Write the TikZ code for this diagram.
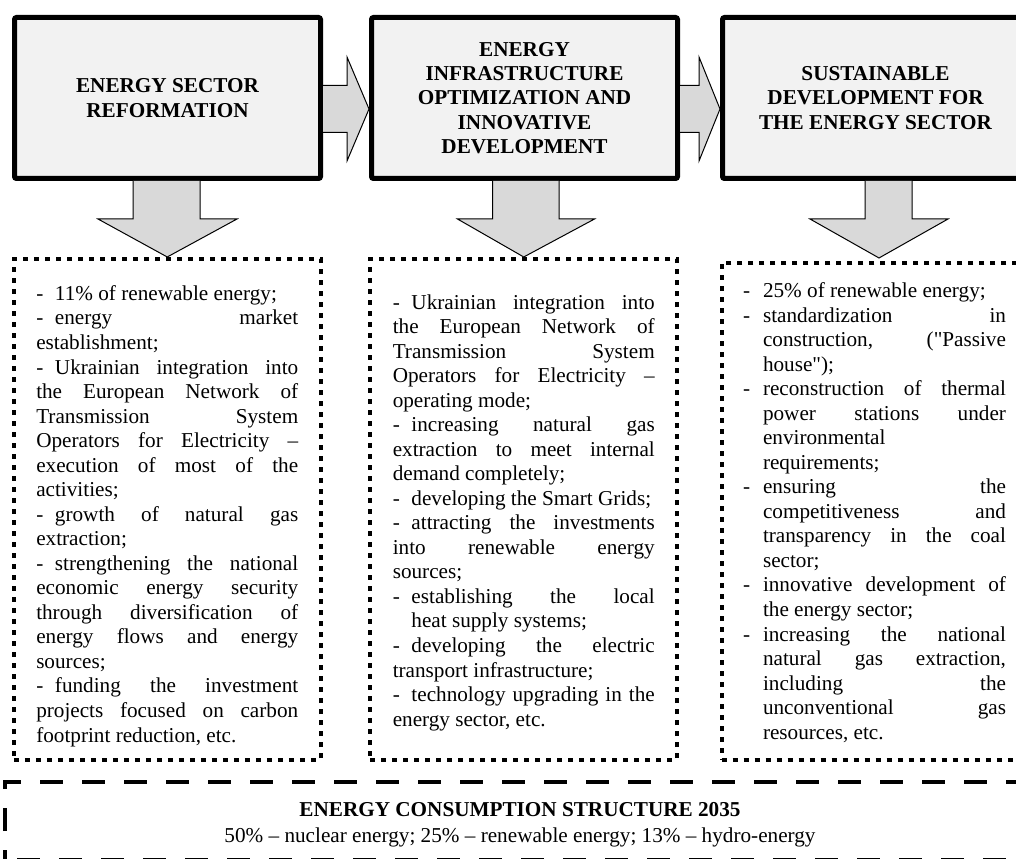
\documentclass[tikz,border=0pt]{standalone}
\usepackage{fontspec}
\setmainfont{Liberation Serif}[Ligatures=TeXOff]
\usetikzlibrary{calc}
\definecolor{stagefill}{HTML}{F2F2F2}
\definecolor{arrowfill}{HTML}{D9D9D9}
\setlength{\parindent}{0pt}
\tolerance=10000
\hbadness=10000
\hyphenpenalty=10000
\newcommand{\itemdash}{-\hspace{0.55em}}
\newcommand{\hangdash}{\noindent\hangindent=15pt\hangafter=1\makebox[15pt][l]{-}}

\begin{document}
\begin{tikzpicture}[x=0.75pt, y=-0.75pt,
  stage/.style={draw, line width=3.75pt, rounded corners=1.5pt, fill=stagefill,
    minimum width=229.5pt, minimum height=120.75pt, inner sep=0pt, align=center,
    font=\fontsize{15.9}{18.2}\selectfont\bfseries},
  dotframe/.style={draw, line width=3pt, dash pattern=on 3.75pt off 4.5pt,
    minimum width=229.9pt, minimum height=375.4pt, inner sep=0pt},
  listtext/.style={text width=196.5pt, align=justify, inner sep=0pt,
    font=\fontsize{15.9}{18.4}\selectfont},
  blockarrow/.style={draw, line width=0.75pt, fill=arrowfill, line join=miter},
  dashframe/.style={line width=3pt, dash pattern=on 17.25pt off 14.25pt, dash phase=9.75pt}
]
\useasboundingbox (0,0) rectangle (1016,859);
\clip (0,0) rectangle (1016,859);

% the three stages
\node[stage] (stage1) at (167.5,98) {ENERGY SECTOR\\REFORMATION};
\node[stage] (stage2) at (524.5,98) {ENERGY\\INFRASTRUCTURE\\OPTIMIZATION AND\\INNOVATIVE\\DEVELOPMENT};
\node[stage] (stage3) at (875.5,98) {SUSTAINABLE\\DEVELOPMENT FOR\\THE ENERGY SECTOR};

% dotted frames with the measures
\node[dotframe] (list1) at (167.25,509.25) {};
\node[dotframe] (list2) at (523.75,509.25) {};
\node[dotframe, minimum height=372.4pt] (list3) at (875,511.25) {};

\node[listtext] (items1) at ($(list1.center)+(0,6.75)$) {%
\itemdash 11\% of renewable energy;\par
\itemdash energy market\linebreak establishment;\par
\itemdash Ukrainian integration into\linebreak the European Network of\linebreak Transmission System\linebreak Operators for Electricity –\linebreak execution of most of the\linebreak activities;\par
\itemdash growth of natural gas\linebreak extraction;\par
\itemdash strengthening the national\linebreak economic energy security\linebreak through diversification of\linebreak energy flows and energy\linebreak sources;\par
\itemdash funding the investment\linebreak projects focused on carbon\linebreak footprint reduction, etc.\par};

\node[listtext] (items2) at ($(list2.center)+(0,3.25)$) {%
\itemdash Ukrainian integration into\linebreak the European Network of\linebreak Transmission System\linebreak Operators for Electricity –\linebreak operating mode;\par
\itemdash increasing natural gas\linebreak extraction to meet internal\linebreak demand completely;\par
\itemdash developing the Smart Grids;\par
\itemdash attracting the investments\linebreak into renewable energy\linebreak sources;\par
\noindent\hangindent=14pt\hangafter=1\itemdash establishing the local\linebreak heat supply systems;\par
\itemdash developing the electric\linebreak transport infrastructure;\par
\itemdash technology upgrading in the\linebreak energy sector, etc.\par};

\node[listtext, text width=197.25pt] (items3) at ($(list3.center)+(-0.5,1.25)$) {%
\hangdash 25\% of renewable energy;\par
\hangdash standardization in\linebreak construction, ("Passive\linebreak house");\par
\hangdash reconstruction of thermal\linebreak power stations under\linebreak environmental\linebreak requirements;\par
\hangdash ensuring the\linebreak competitiveness and\linebreak transparency in the coal\linebreak sector;\par
\hangdash innovative development of\linebreak the energy sector;\par
\hangdash increasing the national\linebreak natural gas extraction,\linebreak including the\linebreak unconventional gas\linebreak resources, etc.\par};

% block arrows between the stages
\filldraw[blockarrow] ($(stage1.east)+(0,-12.5)$) -- ($(stage2.west)+(-22,-12.5)$)
  -- ($(stage2.west)+(-22,-41)$) -- ($(stage2.west)+(0,11)$) -- ($(stage2.west)+(-22,63)$)
  -- ($(stage2.west)+(-22,34.5)$) -- ($(stage1.east)+(0,34.5)$);
\filldraw[blockarrow] ($(stage2.east)+(0,-12.5)$) -- ($(stage3.west)+(-21,-12.5)$)
  -- ($(stage3.west)+(-21,-41)$) -- ($(stage3.west)+(0,11)$) -- ($(stage3.west)+(-21,63)$)
  -- ($(stage3.west)+(-21,34.5)$) -- ($(stage2.east)+(0,34.5)$);

% block arrows down to the frames
\filldraw[blockarrow] ($(stage1.south)+(-34.5,0)$) -- ($(stage1.south)+(-34.5,38)$)
  -- ($(stage1.south)+(-69.5,38)$) -- (list1.north) -- ($(stage1.south)+(69.5,38)$)
  -- ($(stage1.south)+(32.5,38)$) -- ($(stage1.south)+(32.5,0)$);
\filldraw[blockarrow] ($(stage2.south)+(-32,0)$) -- ($(stage2.south)+(-32,38)$)
  -- ($(stage2.south)+(-67,38)$) -- (list2.north) -- ($(stage2.south)+(70,38)$)
  -- ($(stage2.south)+(34.5,38)$) -- ($(stage2.south)+(34.5,0)$);
\filldraw[blockarrow] ($(stage3.south)+(-10.5,0)$) -- ($(stage3.south)+(-10.5,38)$)
  -- ($(stage3.south)+(-65.5,38)$) -- ($(list3.north)+(4,-3)$) -- ($(stage3.south)+(72.5,38)$)
  -- ($(stage3.south)+(36.5,38)$) -- ($(stage3.south)+(36.5,0)$);

% dashed frame at the bottom
\draw[dashframe] (5,860) -- (5,782) -- (1030,782) -- (1030,860) -- cycle;
\node[align=center, inner sep=0pt, font=\fontsize{15.9}{19.5}\selectfont] (mix) at (520,825)
  {\textbf{ENERGY CONSUMPTION STRUCTURE 2035}\\50\% – nuclear energy; 25\% – renewable energy; 13\% – hydro-energy};
\end{tikzpicture}
\end{document}
